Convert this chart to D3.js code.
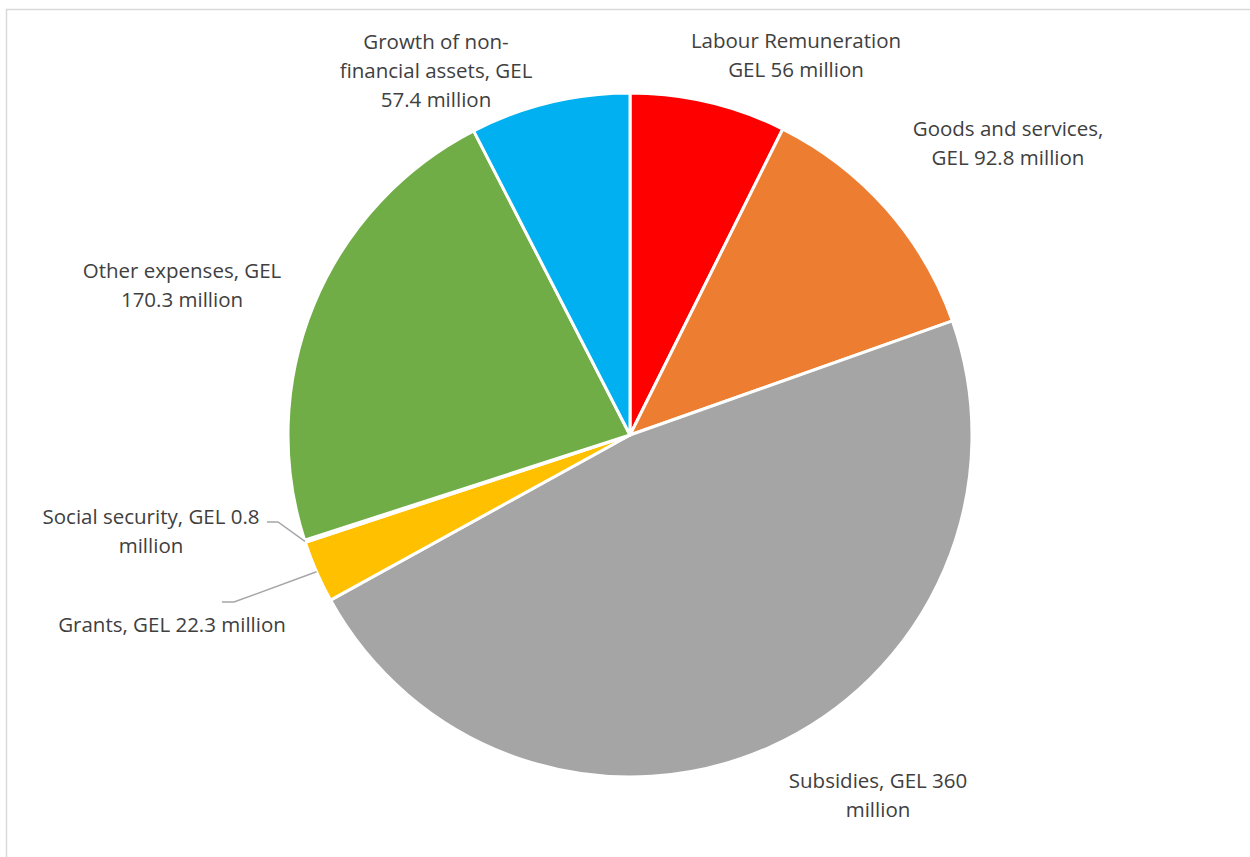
<!DOCTYPE html>
<html lang="en">
<head>
    <meta charset="UTF-8">
    <title>Expenses</title>
    <style>
        body { margin: 0; background: #fff; }
        text { font-family: "Open Sans", Lato, sans-serif; fill: #404040; }
    </style>
</head>
<body>
<script src="https://d3js.org/d3.v7.min.js"></script>
<script>
    // slice data, clockwise from 12 o'clock
    var categories = ["Labour Remuneration", "Goods and services", "Subsidies", "Grants",
        "Social security", "Other expenses", "Growth of non-financial assets"];
    var values = [56, 92.8, 360, 22.3, 0.8, 170.3, 57.4];
    var colors = ["#ff0000", "#ed7d31", "#a5a5a5", "#ffc000", "#5b9bd5", "#70ad47", "#00b0f0"];
    // label lines as shown in the picture
    var labelLines = [
        ["Labour Remuneration", "GEL 56 million"],
        ["Goods and services,", "GEL 92.8 million"],
        ["Subsidies, GEL 360", "million"],
        ["Grants, GEL 22.3 million"],
        ["Social security, GEL 0.8", "million"],
        ["Other expenses, GEL", "170.3 million"],
        ["Growth of non-", "financial assets, GEL", "57.4 million"]
    ];

    var width = 1250, height = 857;
    var cx = 630, cy = 435, radius = 342;

    var svg = d3.select("body").append("svg")
        .attr("width", width)
        .attr("height", height);

    // chart area border (only top and left visible)
    svg.append("rect")
        .attr("x", 6.5).attr("y", 9.5)
        .attr("width", width + 20).attr("height", height + 20)
        .attr("fill", "none")
        .attr("stroke", "#d9d9d9")
        .attr("stroke-width", 1.5);

    var data = categories.map(function (c, i) {
        return {name: c, value: values[i], color: colors[i], lines: labelLines[i]};
    });

    var pie = d3.pie().sort(null).value(function (d) { return d.value; });
    var arc = d3.arc().innerRadius(0).outerRadius(radius);
    var arcs = pie(data);

    var g = svg.append("g").attr("transform", "translate(" + cx + "," + cy + ")");

    g.selectAll("path.slice")
        .data(arcs)
        .enter()
        .append("path")
        .attr("class", "slice")
        .attr("d", arc)
        .attr("fill", function (d) { return d.data.color; })
        .attr("stroke", "#fff")
        .attr("stroke-width", 3)
        .attr("stroke-linejoin", "round");

    // label anchors (center of first line), placed by hand like the original
    var labelPos = [
        [796, 41], [1008, 129], [878, 781], [172, 625], [151, 517], [182, 271], [436, 42]
    ];
    var lineH = 29;

    var labels = svg.selectAll("text.lbl")
        .data(arcs)
        .enter()
        .append("text")
        .attr("class", "lbl")
        .attr("text-anchor", "middle")
        .attr("font-size", 20.5)
        .attr("transform", function (d, i) {
            return "translate(" + labelPos[i][0] + "," + labelPos[i][1] + ")";
        });

    labels.selectAll("tspan")
        .data(function (d) { return d.data.lines; })
        .enter()
        .append("tspan")
        .attr("x", 0)
        .attr("dy", function (d, i) { return i === 0 ? "0.35em" : lineH; })
        .text(function (d) { return d; });

    // leader lines for the two small slices
    var outer = d3.arc().innerRadius(radius).outerRadius(radius);
    var leaders = [
        {idx: 4, pts: [[267, 522], [278, 522]]},
        {idx: 3, pts: [[222, 602], [234, 602]]}
    ];
    leaders.forEach(function (l) {
        var c = outer.centroid(arcs[l.idx]);
        var end = [cx + c[0], cy + c[1]];
        svg.append("polyline")
            .attr("points", l.pts.concat([end]).map(function (p) { return p.join(","); }).join(" "))
            .attr("fill", "none")
            .attr("stroke", "#a6a6a6")
            .attr("stroke-width", 1.5);
    });
</script>
</body>
</html>
